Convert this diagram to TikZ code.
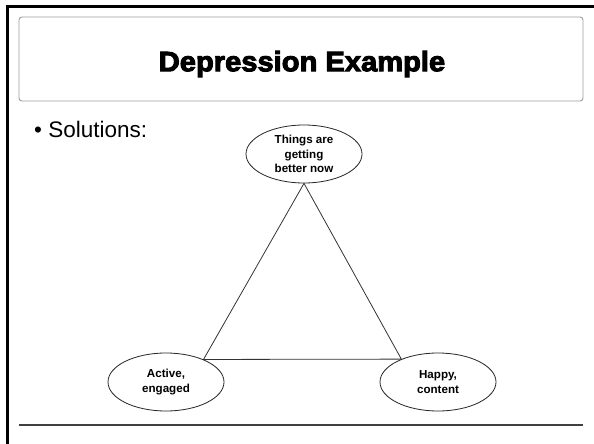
\documentclass[tikz,border=0pt]{standalone}
\usepackage{fontspec}
\setmainfont{Liberation Sans}
\newfontfamily\titlefont{Liberation Sans Bold}[FakeStretch=1.04, FakeBold=3.5]
\usetikzlibrary{shapes.geometric}
\begin{document}
\begin{tikzpicture}[x=1pt, y=-1pt,
  frame/.style={line width=3pt, black},
  titlebox/.style={draw=black!38, line width=0.9pt, rounded corners=3pt},
  rule/.style={draw=black!75, line width=1.5pt},
  idea/.style={ellipse, draw=black!85, line width=0.8pt, minimum width=116pt,
    minimum height=58pt, inner sep=0pt, align=center,
    font=\bfseries\fontsize{11.6}{14.3}\selectfont},
  edge/.style={draw=black!80, line width=0.8pt}]
  \useasboundingbox (0,0) rectangle (594,444);
  \fill[white] (0,0) rectangle (594,444);

  % slide frame (top and left edges)
  \coordinate (fbl) at (7,444);
  \coordinate (ftl) at (7,7);
  \coordinate (ftr) at (594,7);
  \draw[frame] (fbl) -- (ftl) -- (ftr);

  % title panel
  \draw[titlebox] (19,17) rectangle (583,101);
  \node (title) at (302,64) {\titlefont\fontsize{28}{32}\selectfont Depression Example};

  % bullet
  \node[anchor=base west, inner sep=0pt, font=\fontsize{22.5}{27}\selectfont]
    (bullet) at (34,137) {• Solutions:};

  % the three states
  \node[idea] (better) at (304,154) {Things are\\getting\\better now};
  \node[idea] (active) at (166,382) {Active,\\engaged};
  \node[idea] (happy)  at (438,382) {Happy,\\content};

  \draw[edge] (better.south) -- (active.31.5) -- (happy.148.6) -- cycle;

  % bottom rule
  \coordinate (rl) at (19,425);
  \coordinate (rr) at (583,425);
  \draw[rule] (rl) -- (rr);
\end{tikzpicture}
\end{document}
